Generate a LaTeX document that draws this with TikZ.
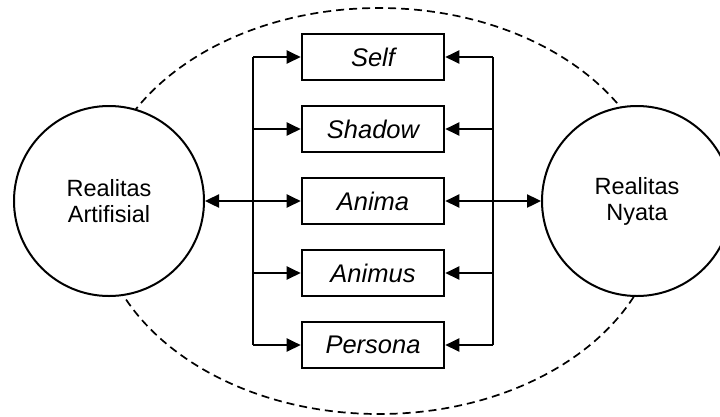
\documentclass[tikz,border=0pt]{standalone}
\usepackage{fontspec}
\setmainfont{Liberation Sans}
\usetikzlibrary{arrows.meta}
\begin{document}
\begin{tikzpicture}[x=1pt,y=-1pt,
  box/.style={draw,line width=2.6pt,minimum width=142pt,minimum height=46pt,inner sep=0pt,
    font=\fontsize{25.5}{28}\selectfont\itshape},
  realm/.style={draw,fill=white,circle,line width=2pt,minimum size=190pt,inner sep=0pt,
    align=center,font=\fontsize{23.5}{26}\selectfont},
  bus/.style={line width=2.4pt},
  arr/.style={line width=2.4pt,-{Triangle[length=14pt,width=13pt]}},
  darr/.style={line width=2.4pt,{Triangle[length=14pt,width=13pt]}-{Triangle[length=14pt,width=13pt]}},
  bound/.style={line width=1.7pt,dash pattern=on 8pt off 5pt}]
\useasboundingbox (0,0) rectangle (720,416);
\draw[bound] (379,211) ellipse [x radius=281, y radius=203];
\node[realm] (art) at (109,201) {Realitas\\Artifisial};
\node[realm] (nyata) at (637,201) {Realitas\\Nyata};
\node[box] (self) at (373,57) {Self};
\node[box] (shadow) at (373,129) {Shadow};
\node[box] (anima) at (373,201) {Anima};
\node[box] (animus) at (373,273) {Animus};
\node[box] (persona) at (373,345) {Persona};
\coordinate (lt) at (253,57);
\coordinate (lb) at (253,345);
\coordinate (rt) at (493,57);
\coordinate (rb) at (493,345);
\draw[bus] (lt) -- (lb);
\draw[bus] (rt) -- (rb);
\draw[arr] (lt) -- (self.west);
\draw[arr] (lt |- shadow) -- (shadow.west);
\draw[arr] (lt |- animus) -- (animus.west);
\draw[arr] (lb) -- (persona.west);
\draw[arr] (rt) -- (self.east);
\draw[arr] (rt |- shadow) -- (shadow.east);
\draw[arr] (rt |- animus) -- (animus.east);
\draw[arr] (rb) -- (persona.east);
\draw[darr] (art.east) -- (anima.west);
\draw[darr] (anima.east) -- (nyata.west);
\end{tikzpicture}
\end{document}
